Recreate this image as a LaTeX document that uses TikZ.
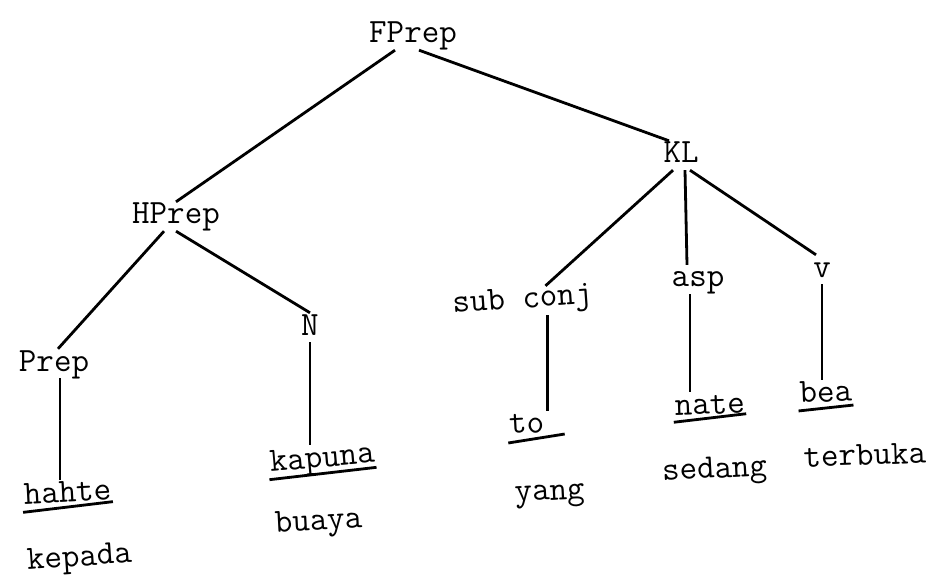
\documentclass[tikz,border=0pt]{standalone}
\usepackage{fontspec}
\usepackage{tikz}

\tikzset{
   word/.style={font=\ttfamily\fontsize{34}{38}\selectfont,anchor=base,inner sep=1pt,text height=21pt,text depth=6pt},
   branch/.style={line width=2.8pt},
   uline/.style={line width=2.8pt}
}

\begin{document}
\begin{tikzpicture}[x=1pt,y=-1pt]
\useasboundingbox (0,0) rectangle (931,577);

\node(FPrep)[word] at (413,43) {FPrep};
\node(HPrep)[word] at (176,224) {HPrep};
\node(KL)[word] at (681,163) {KL};

\node(Prep)[word] at (54,371) {Prep};
\node(N)[word] at (310,335) {N};
\node(subconj)[word,rotate=4] at (523,308) {sub conj};
\node(asp)[word] at (698,287) {asp};
\node(v)[word] at (822,277) {v};

\node(hahte)[word,rotate=3] at (68,502) {hahte};
\node(kapuna)[word,rotate=5] at (323,467) {kapuna};
\node(to)[word,rotate=3] at (527,433) {to};
\node(nate)[word,rotate=2] at (710,414) {nate};
\node(bea)[word,rotate=2] at (826,402) {bea};

\node(kepada)[word,rotate=4] at (80,566) {kepada};
\node(buaya)[word,rotate=3] at (319,530) {buaya};
\node(yang)[word,rotate=3] at (550,500) {yang};
\node(sedang)[word,rotate=3] at (715,478) {sedang};
\node(terbuka)[word,rotate=2] at (865,465) {terbuka};

\draw[branch] ([xshift=-18pt]FPrep.south) -- (HPrep.north);
\draw[branch] ([xshift=6pt]FPrep.south) -- ([xshift=-12pt]KL.north);

\draw[branch] ([xshift=-12pt]HPrep.south) -- ([xshift=4pt]Prep.north);
\draw[branch] (HPrep.south) -- (N.north);

\draw[branch] ([xshift=-8pt]KL.south) -- ([xshift=24pt]subconj.north);
\draw[branch] ([xshift=4pt]KL.south) -- ([xshift=-11pt]asp.north);
\draw[branch] ([xshift=9pt]KL.south) -- ([xshift=-6pt]v.north);

\draw[branch] ([xshift=6pt]Prep.south) -- ([xshift=6pt]Prep.south |- hahte.north);
\draw[branch] (N.south) -- (N.south |- kapuna.north);
\draw[branch] ([xshift=24pt]subconj.south) -- ([xshift=24pt]subconj.south |- to.north);
\draw[branch] ([xshift=-8pt]asp.south) -- ([xshift=-8pt]asp.south |- nate.north);
\draw[branch] (v.south) -- (v.south |- bea.north);

\draw[uline] ([yshift=-8pt]hahte.base west) -- ([yshift=-2pt]hahte.base east);
\draw[uline] ([yshift=-8pt]kapuna.base west) -- ([yshift=-5pt]kapuna.base east);
\draw[uline] ([yshift=-9pt]to.base west) -- ([xshift=19pt,yshift=-2pt]to.base east);
\draw[uline] ([yshift=-7pt]nate.base west) -- ([yshift=-1pt]nate.base east);
\draw[uline] ([yshift=-8pt]bea.base west) -- ([yshift=-4pt]bea.base east);
\end{tikzpicture}
\end{document}
